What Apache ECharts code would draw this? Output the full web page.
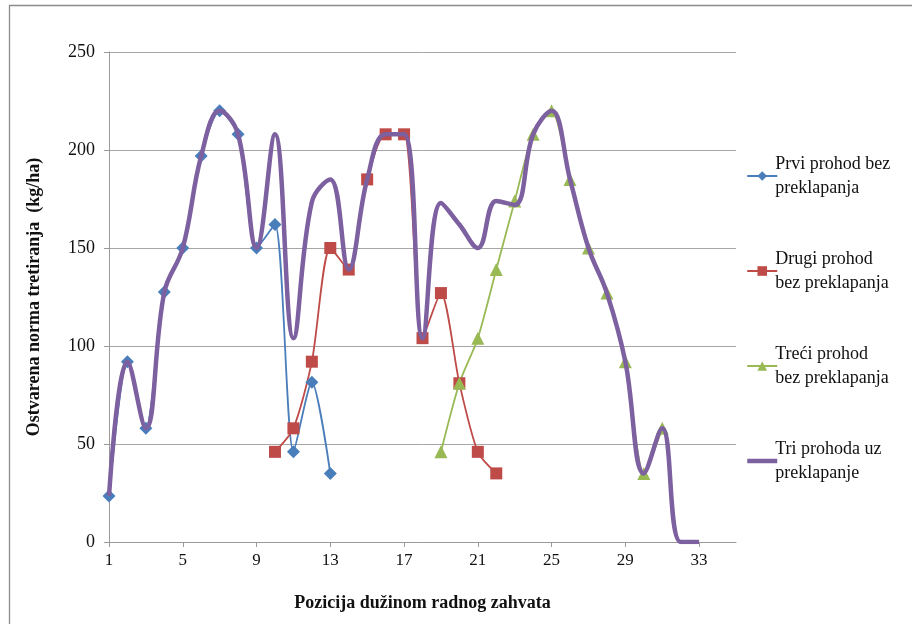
<!DOCTYPE html>
<html lang="sr">
<head>
  <meta charset="UTF-8">
  <title>Ostvarena norma tretiranja</title>
  <style>
    html, body { margin: 0; padding: 0; background: #fff; }
  </style>
</head>
<body>
  <div id="main" style="width:912px;height:624px"></div>
  <script src="https://cdn.jsdelivr.net/npm/echarts@6/dist/echarts.min.js"></script>
  <script>
    var myChart = echarts.init(document.getElementById('main'))

    // pozicije 1..35
    var pozicije = []
    for (var i = 1; i <= 35; i++) pozicije.push(String(i))

    var yTicks = [0, 50, 100, 150, 200, 250]

    // vrijednosti po pozicijama (null = nema tacke)
    var prvi = [23.5, 92, 58, 127.5, 150, 197, 220, 208, 150, 162, 46, 81.5, 35]
    var prviStart = 1
    var drugi = [46, 58, 92, 150, 139, 185, 208, 208, 104, 127, 81, 46, 35]
    var drugiStart = 10
    var treci = [46, 81, 104, 139, 174, 208, 220, 185, 150, 127, 92, 35, 58]
    var treciStart = 19
    var triProhoda = [23.5, 92, 58, 127.5, 150, 197, 220, 208, 150, 208, 104, 173.5, 185,
                      139, 185, 208, 208, 104, 173, 162, 150, 174, 172, 208, 220, 185,
                      150, 127, 92, 35, 58, 0, 0]

    var names = ['Prvi prohod bez\npreklapanja', 'Drugi prohod\nbez preklapanja',
                 'Treći prohod\nbez preklapanja', 'Tri prohoda uz\npreklapanje']

    function place(vals, start) {
      var out = []
      for (var i = 0; i < pozicije.length; i++) out.push(null)
      for (var j = 0; j < vals.length; j++) out[start - 1 + j] = vals[j]
      return out
    }

    var font = '"Liberation Serif", "Times New Roman", serif'

    var options = {
      animation: false,
      textStyle: { fontFamily: font },
      graphic: [{
        type: 'rect',
        shape: { x: 9.5, y: 5.5, width: 1000, height: 700 },
        style: { fill: null, stroke: '#8c8c8c', lineWidth: 1.3 },
        silent: true
      }],
      grid: { left: 109, right: 176, top: 52, bottom: 82, containLabel: false },
      legend: {
        orient: 'vertical',
        left: 740,
        top: 147,
        itemGap: 47,
        itemWidth: 30,
        itemHeight: 12,
        textStyle: { fontFamily: font, fontSize: 18, color: '#111', lineHeight: 24, padding: [0, 0, 0, -7] },
        data: [
          { name: names[0] },
          { name: names[1] },
          { name: names[2] },
          { name: names[3], itemStyle: { opacity: 0 }, lineStyle: { width: 4.5 } }
        ]
      },
      xAxis: {
        type: 'category',
        data: pozicije,
        boundaryGap: false,
        name: 'Pozicija dužinom radnog zahvata',
        nameLocation: 'middle',
        nameGap: 52,
        nameTextStyle: { fontFamily: font, fontSize: 18, fontWeight: 'bold', color: '#111' },
        axisLine: { lineStyle: { color: '#9a9a9a', width: 1 } },
        axisTick: { interval: 3, length: 5, lineStyle: { color: '#9a9a9a' } },
        axisLabel: { interval: 3, fontSize: 17, color: '#111', margin: 10 },
        splitLine: { show: false }
      },
      yAxis: {
        type: 'value',
        min: yTicks[0],
        max: yTicks[yTicks.length - 1],
        interval: 50,
        name: 'Ostvarena norma tretiranja  (kg/ha)',
        nameLocation: 'middle',
        nameGap: 66,
        nameTextStyle: { fontFamily: font, fontSize: 18, fontWeight: 'bold', color: '#111' },
        axisLine: { show: true, lineStyle: { color: '#9a9a9a', width: 1 } },
        axisTick: { show: true, length: 5, lineStyle: { color: '#9a9a9a' } },
        axisLabel: { fontSize: 18, color: '#111', margin: 14 },
        splitLine: { lineStyle: { color: '#a6a6a6', width: 1 } }
      },
      series: [
        {
          name: names[0], type: 'line', smooth: 0.25,
          data: place(prvi, prviStart),
          symbol: 'diamond', symbolSize: 13, showAllSymbol: true,
          itemStyle: { color: '#4a7ebb' },
          lineStyle: { color: '#4a7ebb', width: 1.8 },
          z: 3
        },
        {
          name: names[1], type: 'line', smooth: 0.25,
          data: place(drugi, drugiStart),
          symbol: 'rect', symbolSize: 12, showAllSymbol: true,
          itemStyle: { color: '#be4b48' },
          lineStyle: { color: '#be4b48', width: 1.8 },
          z: 3
        },
        {
          name: names[2], type: 'line', smooth: 0.25,
          data: place(treci, treciStart),
          symbol: 'triangle', symbolSize: 13, showAllSymbol: true,
          itemStyle: { color: '#98b954' },
          lineStyle: { color: '#98b954', width: 1.8 },
          z: 3
        },
        {
          name: names[3], type: 'line', smooth: 0.4,
          data: place(triProhoda, 1),
          symbol: 'none',
          itemStyle: { color: '#7d60a0' },
          lineStyle: { color: '#7d60a0', width: 4.5 },
          z: 4
        }
      ]
    }

    myChart.setOption(options)
  </script>
</body>
</html>
